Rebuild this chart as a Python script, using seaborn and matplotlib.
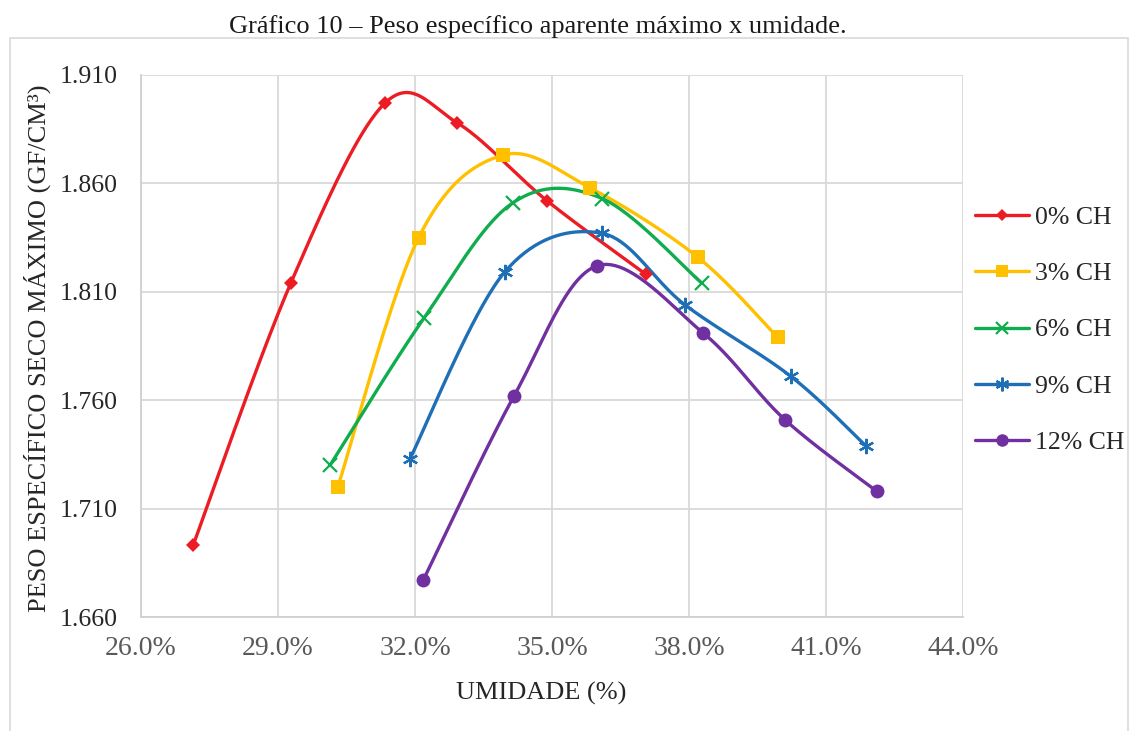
import numpy as np
import pandas as pd
import matplotlib
matplotlib.use("Agg")
import matplotlib.pyplot as plt
from matplotlib.patches import Rectangle
from matplotlib.ticker import FuncFormatter
import seaborn as sns

# Moisture content (%) and dry unit weight (gf/cm³) for each lime content
series_names = ["0% CH", "3% CH", "6% CH", "9% CH", "12% CH"]

umid_0 = [27.14, 29.28, 31.34, 32.92, 34.89, 37.06]
peso_0 = [1.693, 1.814, 1.897, 1.888, 1.852, 1.818]

umid_3 = [30.31, 32.08, 33.92, 35.83, 38.19, 39.94]
peso_3 = [1.720, 1.835, 1.873, 1.858, 1.826, 1.789]

umid_6 = [30.14, 32.20, 34.14, 36.10, 38.28]
peso_6 = [1.730, 1.798, 1.851, 1.853, 1.814]

umid_9 = [31.89, 33.96, 36.09, 37.91, 40.23, 41.87]
peso_9 = [1.733, 1.819, 1.837, 1.804, 1.771, 1.739]

umid_12 = [32.18, 34.17, 35.99, 38.31, 40.10, 42.11]
peso_12 = [1.677, 1.762, 1.822, 1.791, 1.751, 1.718]

x_ticks = [26.0, 29.0, 32.0, 35.0, 38.0, 41.0, 44.0]
y_ticks = [1.660, 1.710, 1.760, 1.810, 1.860, 1.910]

colors = ["#EC1C24", "#FFC000", "#10AD4E", "#1F6FB7", "#7030A0"]
markers = ["D", "s", "x", (6, 2, 0), "o"]
marker_sizes = [7, 10, 10, 11, 10]

data = pd.concat([
    pd.DataFrame({"umidade": u, "peso": p, "serie": name})
    for name, u, p in zip(series_names,
                          [umid_0, umid_3, umid_6, umid_9, umid_12],
                          [peso_0, peso_3, peso_6, peso_9, peso_12])
], ignore_index=True)


def smooth_curve(xs, ys, steps=40):
    """Cubic Bezier smoothing through every point (Catmull-Rom control points)."""
    pts = np.column_stack([xs, ys]).astype(float)
    n = len(pts)
    out = []
    for i in range(n - 1):
        p0 = pts[i - 1] if i > 0 else pts[i]
        p1 = pts[i]
        p2 = pts[i + 1]
        p3 = pts[i + 2] if i + 2 < n else pts[i + 1]
        b1 = p1 + (p2 - p0) / 6.0
        b2 = p2 - (p3 - p1) / 6.0
        t = np.linspace(0, 1, steps)[:, None]
        seg = ((1 - t) ** 3) * p1 + 3 * ((1 - t) ** 2) * t * b1 \
            + 3 * (1 - t) * t ** 2 * b2 + t ** 3 * p2
        out.append(seg if i == 0 else seg[1:])
    return np.vstack(out)


sns.set_theme(style="white")
plt.rcParams["font.family"] = ["Liberation Serif", "DejaVu Serif"]

W, H = 1135, 731
fig = plt.figure(figsize=(W / 100, H / 100), dpi=100)
fig.patch.set_facecolor("white")

# Outer chart frame
fig.patches.append(Rectangle((10 / W, -0.02), 1118 / W, (H - 38) / H + 0.02,
                             transform=fig.transFigure, fill=False,
                             edgecolor="#D9D9D9", linewidth=1.2, zorder=0))

ax = fig.add_axes([141 / W, 1 - 617 / H, 822 / W, 542 / H])

for name, color, marker, ms in zip(series_names, colors, markers, marker_sizes):
    sub = data[data["serie"] == name]
    curve = smooth_curve(sub["umidade"].to_numpy(), sub["peso"].to_numpy())
    ax.plot(curve[:, 0], curve[:, 1], color=color, linewidth=2.4,
            solid_capstyle="round", zorder=3)
    mew = 1.6 if marker in ("x", (6, 2, 0)) else 0
    ax.plot(sub["umidade"], sub["peso"], linestyle="none", marker=marker,
            markersize=ms, color=color, markeredgecolor=color,
            markeredgewidth=mew, zorder=4)
    # legend proxy
    ax.plot([], [], color=color, linewidth=2.4, marker=marker,
            markersize=ms * 0.9, markeredgewidth=mew, markeredgecolor=color,
            label=name)

ax.set_xlim(26, 44)
ax.set_ylim(1.660, 1.910)
ax.set_xticks(x_ticks)
ax.set_yticks(y_ticks)
ax.xaxis.set_major_formatter(FuncFormatter(lambda v, _: f"{v:.1f}%"))
ax.yaxis.set_major_formatter(FuncFormatter(lambda v, _: f"{v:.3f}"))
ax.grid(True, color="#D9D9D9", linewidth=1.3)
ax.set_axisbelow(True)
for side in ["top", "right"]:
    ax.spines[side].set_visible(False)
for side in ["left", "bottom"]:
    ax.spines[side].set_color("#D0D0D0")
    ax.spines[side].set_linewidth(1.3)
ax.tick_params(axis="both", length=0)
ax.tick_params(axis="x", labelcolor="#595959", labelsize=20, pad=14)
ax.tick_params(axis="y", labelcolor="#262626", labelsize=18.5, pad=16.5)

ax.set_xlabel("UMIDADE (%)", fontsize=19, color="#262626")
ax.xaxis.set_label_coords((541.5 - 141) / 822, -(693 - 617) / 542)
ax.xaxis.label.set_va("center")
ax.set_ylabel("PESO ESPECÍFICO SECO MÁXIMO (GF/CM³)", fontsize=19,
              color="#262626")
ax.yaxis.set_label_coords(-(141 - 37) / 822, (617 - 348) / 542)
ax.yaxis.label.set_va("center")

fig.text(538 / W, 1 - 27 / H,
         "Gráfico 10 – Peso específico aparente máximo x umidade.",
         ha="center", va="center", fontsize=19, color="#1a1a1a")

leg = ax.legend(loc="center left", bbox_to_anchor=(975 / W, 1 - 330 / H),
                bbox_transform=fig.transFigure, frameon=False,
                fontsize=18.5, handlelength=2.1, handletextpad=0.25,
                labelspacing=1.3, borderaxespad=0, borderpad=0)
for t in leg.get_texts():
    t.set_color("#262626")

fig.savefig("out.png", dpi=100, facecolor="white")
